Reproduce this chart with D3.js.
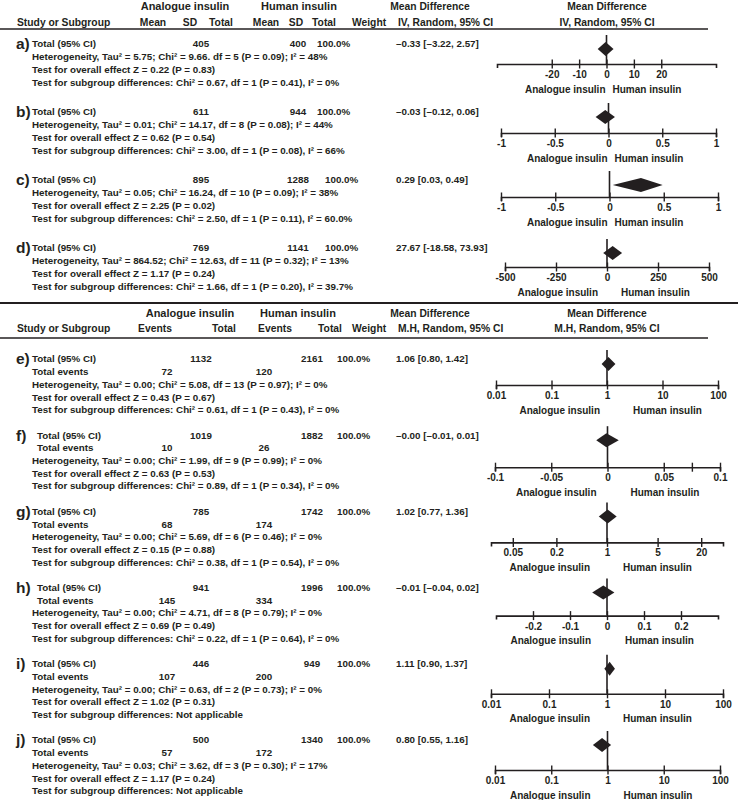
<!DOCTYPE html>
<html><head><meta charset="utf-8">
<script src="https://cdn.jsdelivr.net/npm/d3@7"></script>
<style>
body{margin:0;background:#fff}
svg text{font-family:"Liberation Sans",Arial,Helvetica,sans-serif;font-weight:bold;fill:#231f20}
</style>
</head><body><svg id="chart" width="738" height="800"></svg>
<script>
// ---------------- data ----------------
const panelLabels = ["a)","b)","c)","d)","e)","f)","g)","h)","i)","j)"];
const analogueTotals = [405, 611, 895, 769, 1132, 1019, 785, 941, 446, 500];
const humanTotals = [400, 944, 1288, 1141, 2161, 1882, 1742, 1996, 949, 1340];
const weights = ["100.0%","100.0%","100.0%","100.0%","100.0%","100.0%","100.0%","100.0%","100.0%","100.0%"];
const analogueEvents = [null, null, null, null, 72, 10, 68, 145, 107, 57];
const humanEvents = [null, null, null, null, 120, 26, 174, 334, 200, 172];
const estimates = [-0.33, -0.03, 0.29, 27.67, 1.06, -0.001, 1.02, -0.01, 1.11, 0.80];
const ciLow = [-3.22, -0.12, 0.03, -18.58, 0.80, -0.01, 0.77, -0.04, 0.90, 0.55];
const ciHigh = [2.57, 0.06, 0.49, 73.93, 1.42, 0.01, 1.36, 0.02, 1.37, 1.16];
const effectTexts = ["\u20130.33 [\u20133.22, 2.57]", "\u20130.03 [\u20130.12, 0.06]", "0.29 [0.03, 0.49]",
  "27.67 [-18.58, 73.93]", "1.06 [0.80, 1.42]", "\u20130.00 [\u20130.01, 0.01]", "1.02 [0.77, 1.36]",
  "\u20130.01 [\u20130.04, 0.02]", "1.11 [0.90, 1.37]", "0.80 [0.55, 1.16]"];
const heterogeneity = [
  "Heterogeneity, Tau\u00b2 = 5.75; Chi\u00b2 = 9.66. df = 5 (P = 0.09); I\u00b2 = 48%",
  "Heterogeneity, Tau\u00b2 = 0.01; Chi\u00b2 = 14.17, df = 8 (P = 0.08); I\u00b2 = 44%",
  "Heterogeneity, Tau\u00b2 = 0.05; Chi\u00b2 = 16.24, df = 10 (P = 0.09); I\u00b2 = 38%",
  "Heterogeneity, Tau\u00b2 = 864.52; Chi\u00b2 = 12.63, df = 11 (P = 0.32); I\u00b2 = 13%",
  "Heterogeneity, Tau\u00b2 = 0.00; Chi\u00b2 = 5.08, df = 13 (P = 0.97); I\u00b2 = 0%",
  "Heterogeneity, Tau\u00b2 = 0.00; Chi\u00b2 = 1.99, df = 9 (P = 0.99); I\u00b2 = 0%",
  "Heterogeneity, Tau\u00b2 = 0.00; Chi\u00b2 = 5.69, df = 6 (P = 0.46); I\u00b2 = 0%",
  "Heterogeneity, Tau\u00b2 = 0.00; Chi\u00b2 = 4.71, df = 8 (P = 0.79); I\u00b2 = 0%",
  "Heterogeneity, Tau\u00b2 = 0.00; Chi\u00b2 = 0.63, df = 2 (P = 0.73); I\u00b2 = 0%",
  "Heterogeneity, Tau\u00b2 = 0.03; Chi\u00b2 = 3.62, df = 3 (P = 0.30); I\u00b2 = 17%"];
const overallEffect = [
  "Test for overall effect Z = 0.22 (P = 0.83)", "Test for overall effect Z = 0.62 (P = 0.54)",
  "Test for overall effect Z = 2.25 (P = 0.02)", "Test for overall effect Z = 1.17 (P = 0.24)",
  "Test for overall effect Z = 0.43 (P = 0.67)", "Test for overall effect Z = 0.63 (P = 0.53)",
  "Test for overall effect Z = 0.15 (P = 0.88)", "Test for overall effect Z = 0.69 (P = 0.49)",
  "Test for overall effect Z = 1.02 (P = 0.31)", "Test for overall effect Z = 1.17 (P = 0.24)"];
const subgroupDiff = [
  "Test for subgroup differences: Chi\u00b2 = 0.67, df = 1 (P = 0.41), I\u00b2 = 0%",
  "Test for subgroup differences: Chi\u00b2 = 3.00, df = 1 (P = 0.08), I\u00b2 = 66%",
  "Test for subgroup differences: Chi\u00b2 = 2.50, df = 1 (P = 0.11), I\u00b2 = 60.0%",
  "Test for subgroup differences: Chi\u00b2 = 1.66, df = 1 (P = 0.20), I\u00b2 = 39.7%",
  "Test for subgroup differences: Chi\u00b2 = 0.61, df = 1 (P = 0.43), I\u00b2 = 0%",
  "Test for subgroup differences: Chi\u00b2 = 0.89, df = 1 (P = 0.34), I\u00b2 = 0%",
  "Test for subgroup differences: Chi\u00b2 = 0.38, df = 1 (P = 0.54), I\u00b2 = 0%",
  "Test for subgroup differences: Chi\u00b2 = 0.22, df = 1 (P = 0.64), I\u00b2 = 0%",
  "Test for subgroup differences: Not applicable",
  "Test for subgroup differences: Not applicable"];
const axisTypes = ["linear","linear","linear","linear","log","linear","log","linear","log","log"];
const axisDomains = [[-40,40],[-1,1],[-1,1],[-500,500],[0.01,100],[-0.1,0.1],[0.025,40],[-0.3,0.3],[0.01,100],[0.01,100]];
const axisTicks = [[-20,-10,0,10,20],[-1,-0.5,0,0.5,1],[-1,-0.5,0,0.5,1],[-500,-250,0,250,500],
  [0.01,0.1,1,10,100],[-0.1,-0.05,0,0.05,0.075,0.1],[0.05,0.2,1,5,20],[-0.2,-0.1,0,0.1,0.2],
  [0.01,0.1,1,10,100],[0.01,0.1,1,10,100]];
const axisTickLabels = [["-20","-10","0","10","20"],["-1","-0.5","0","0.5","1"],["-1","-0.5","0","0.5","1"],
  ["-500","-250","0","250","500"],["0.01","0.1","1","10","100"],["-0.1","-0.05","0","0.05","","0.1"],
  ["0.05","0.2","1","5","20"],["-0.2","-0.1","0","0.1","0.2"],["0.01","0.1","1","10","100"],["0.01","0.1","1","10","100"]];
const headerContinuous = ["Mean","SD","Total","Mean","SD","Total"];
const headerDichotomous = ["Events","Total","Events","Total"];
const leftGroup = "Analogue insulin", rightGroup = "Human insulin";

// ---------------- layout ----------------
const axisRanges = [[497,716],[501,716],[501,718],[505,709],[496,718],[495,720],[491,723],[496,718],[491,723],[495,720]];
const axisOffset = [20,21,17,19,26,32,31,28,30,30];
const leftLabelGap = [1,1,2,9,7,11,17,16,17,17];
const rightLabelGap = [6,6,5,14,26,23,16,18,16,16];
const firstRowsIndent = [0,0,0,0,0,5,0,5,0,0];
const lineH = 12.7;
const bodySize = 9.8, headSize = 10.3, axisSize = 10;

const svg = d3.select("#chart");
function txt(x, y, s, size, anchor) {
  return svg.append("text").attr("x", x).attr("y", y).attr("dy", "0.35em")
    .attr("font-size", size).attr("text-anchor", anchor || "start").text(s);
}
function hline(x1, x2, y, w) {
  svg.append("line").attr("x1", x1).attr("x2", x2).attr("y1", y).attr("y2", y)
    .attr("stroke", "#231f20").attr("stroke-width", w);
}

// headers
function header(y0, cols, colX, methodText, groupX) {
  txt(groupX[0], y0, leftGroup, headSize + 0.7, "middle");
  txt(groupX[1], y0, rightGroup, headSize + 0.7, "middle");
  txt(430, y0, "Mean Difference", headSize, "middle");
  txt(607, y0, "Mean Difference", headSize, "middle");
  const y1 = y0 + 15.5;
  txt(17, y1, "Study or Subgroup", headSize);
  cols.forEach((c, k) => txt(colX[k], y1, c, headSize, "middle"));
  txt(352, y1, "Weight", headSize);
  txt(398, y1, methodText, headSize);
  txt(607, y1, methodText, headSize, "middle");
}
header(6.5, headerContinuous, [153, 190, 221, 266, 296, 324], "IV, Random, 95% CI", [185, 299]);
hline(0, 708, 29, 1.3);
hline(0, 738, 303, 2);
header(313, headerDichotomous, [155, 224, 275, 330], "M.H, Random, 95% CI", [190, 298]);
hline(0, 708, 338, 1.3);

// panels
panelLabels.forEach((lab, i) => {
  const dich = i >= 4;
  const top = dich ? 359 + (i - 4) * 76.2 : 44 + i * 68;
  const ind = 32 + firstRowsIndent[i];
  txt(16, top, lab, 15.5);
  txt(ind, top, "Total (95% CI)", bodySize);
  txt(201, top, analogueTotals[i], bodySize, "middle");
  txt(dich ? 312 : 298, top, humanTotals[i], bodySize, "middle");
  txt(dich ? 337 : (i < 2 ? 317 : 325), top, weights[i], bodySize);
  txt(396, top, effectTexts[i], bodySize);
  let row = 1;
  if (dich) {
    txt(ind, top + lineH, "Total events", bodySize);
    txt(167, top + lineH, analogueEvents[i], bodySize, "middle");
    txt(264, top + lineH, humanEvents[i], bodySize, "middle");
    row = 2;
  }
  txt(32, top + lineH * row, heterogeneity[i], bodySize);
  txt(32, top + lineH * (row + 1), overallEffect[i], bodySize);
  txt(32, top + lineH * (row + 2), subgroupDiff[i], bodySize);

  // scale & axis
  const x = (axisTypes[i] === "log" ? d3.scaleLog() : d3.scaleLinear())
    .domain(axisDomains[i]).range(axisRanges[i]);
  const ay = top + axisOffset[i];
  const labels = axisTickLabels[i];
  const axis = d3.axisBottom(x).tickValues(axisTicks[i])
    .tickFormat((d, k) => labels[k]).tickSizeOuter(0).tickSize(4).tickPadding(3);
  const g = svg.append("g").attr("transform", `translate(0,${ay})`).call(axis);
  g.attr("font-family", null).attr("font-size", axisSize);
  g.select(".domain").attr("stroke", "#231f20").attr("stroke-width", 1.6);
  g.selectAll(".tick line").attr("y1", -4.5).attr("y2", 4.5).attr("stroke", "#231f20").attr("stroke-width", 1.4);
  g.selectAll(".tick text").attr("fill", "#231f20");

  const null0 = axisTypes[i] === "log" ? 1 : 0;
  const x0 = x(null0);
  const cy = top + 5;
  // line of no effect
  svg.append("line").attr("x1", x0).attr("x2", x0).attr("y1", top - 9).attr("y2", ay)
    .attr("stroke", "#231f20").attr("stroke-width", 1.6);
  // diamond (pooled estimate and 95% CI)
  const hh = 7;
  const pts = [[x(ciLow[i]), cy], [x(estimates[i]), cy - hh], [x(ciHigh[i]), cy], [x(estimates[i]), cy + hh]];
  svg.append("path").attr("d", d3.line()(pts) + "Z").attr("fill", "#231f20");

  // favours labels
  txt(x0 - leftLabelGap[i], ay + 25, leftGroup, axisSize, "end");
  txt(x0 + rightLabelGap[i], ay + 25, rightGroup, axisSize, "start");
});
</script>
</body></html>
